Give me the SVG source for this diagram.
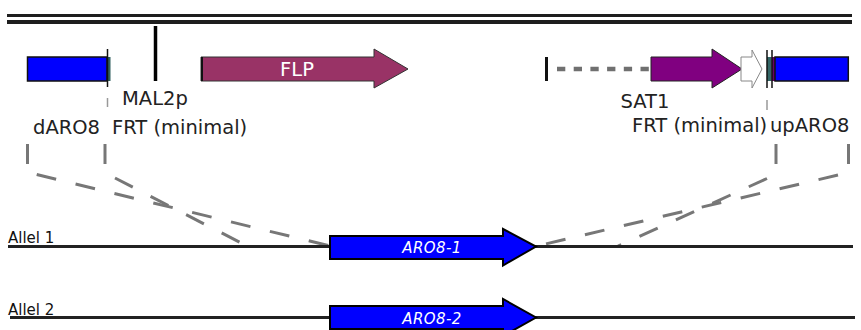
<svg xmlns="http://www.w3.org/2000/svg" width="861" height="330" viewBox="0 0 861 330">
<style>
.lbl{font-family:"DejaVu Sans",Verdana,sans-serif;font-size:19.5px;fill:#222}
.al{font-family:"DejaVu Sans",Verdana,sans-serif;font-size:15px;fill:#111}
.gene{font-family:"DejaVu Sans",Verdana,sans-serif;font-size:15px;font-style:italic;fill:#fff;letter-spacing:0.4px}
.dash{stroke:#777;stroke-width:3;fill:none;stroke-dasharray:20 20}
.tick{stroke:#777;stroke-width:3}
.thin{stroke:#999;stroke-width:1.5}
.bar{stroke:#111;stroke-width:1.5}
.allele{stroke:#222;stroke-width:3}
.blue{fill:#0000ff;stroke:#111;stroke-width:1.5}
.aro{fill:#0000ff;stroke:#000;stroke-width:2}
</style>
<rect width="861" height="330" fill="#fff"/>
<g id="backbone">
<rect x="7" y="14" width="845" height="3" fill="#1e1e1e"/>
<rect x="7" y="20" width="845" height="4" fill="#1e1e1e"/>
</g>
<g id="dARO8">
<rect class="blue" x="27.5" y="57" width="79.5" height="24"/>
<text class="lbl" x="33" y="134">dARO8</text>
</g>
<g id="FRT-left">
<rect x="107" y="57" width="3.5" height="24" fill="#2f5f5f"/>
<line class="bar" x1="107.5" y1="49" x2="107.5" y2="87"/>
<line class="thin" x1="107.5" y1="98" x2="107.5" y2="107"/>
<text class="lbl" x="112" y="134">FRT (minimal)</text>
</g>
<g id="MAL2p">
<line x1="155.5" y1="26" x2="155.5" y2="81" stroke="#000" stroke-width="3.5"/>
<text class="lbl" x="122" y="105">MAL2p</text>
</g>
<g id="FLP">
<polygon points="201,57 374,57 374,49 408,69 374,88 374,81 201,81" fill="#993366" stroke="#333" stroke-width="1"/>
<line x1="202" y1="57" x2="202" y2="81" stroke="#111" stroke-width="2"/>
<text x="297" y="76" text-anchor="middle" font-family="DejaVu Sans,Verdana,sans-serif" font-size="19.5" fill="#fff">FLP</text>
</g>
<g id="SAT1">
<line x1="546.5" y1="57" x2="546.5" y2="81" stroke="#111" stroke-width="3"/>
<line x1="557" y1="69" x2="651" y2="69" stroke="#707070" stroke-width="4.5" stroke-dasharray="8.3 8.4"/>
<polygon points="651,57 712,57 712,49 742,69 712,88 712,81 651,81" fill="#800080" stroke="#222" stroke-width="1"/>
<text class="lbl" x="620.5" y="108">SAT1</text>
</g>
<g id="white-arrow">
<polygon points="741,57 752,57 752,50 762,69 752,88 752,81 741,81" fill="#fff" stroke="#888" stroke-width="1"/>
</g>
<g id="FRT-right">
<rect x="767" y="57" width="4.5" height="24" fill="#336666"/>
<rect x="771.5" y="57" width="3.5" height="24" fill="#660066"/>
<line class="bar" x1="767" y1="50" x2="767" y2="88"/>
<line class="bar" x1="772" y1="50" x2="772" y2="88"/>
<line class="thin" x1="767" y1="100" x2="767" y2="110"/>
<text class="lbl" x="632" y="132">FRT (minimal)</text>
</g>
<g id="upARO8">
<rect class="blue" x="775" y="57" width="73.3" height="24"/>
<text class="lbl" x="770" y="132">upARO8</text>
</g>
<g id="connectors">
<line class="tick" x1="27.5" y1="144" x2="27.5" y2="164"/>
<line class="tick" x1="105" y1="144" x2="105" y2="164"/>
<line class="tick" x1="776" y1="144" x2="776" y2="164"/>
<line class="tick" x1="848.5" y1="144" x2="848.5" y2="164"/>
<line class="dash" x1="36.7" y1="174.5" x2="330" y2="246"/>
<line class="dash" x1="115" y1="178" x2="247" y2="246"/>
<line class="dash" x1="838" y1="175" x2="537" y2="246"/>
<line class="dash" x1="767" y1="178.5" x2="618" y2="246"/>
</g>
<g id="allel1">
<line class="allele" x1="8" y1="246.5" x2="853" y2="246.5"/>
<text class="al" x="8" y="243">Allel 1</text>
</g>
<g id="ARO8-1">
<polygon class="aro" points="330,236 503,236 503,229 536,246.5 503,265.5 503,259 330,259"/>
<text class="gene" x="432" y="253" text-anchor="middle">ARO8-1</text>
</g>
<g id="allel2">
<line class="allele" x1="10" y1="317.5" x2="855" y2="317.5" stroke-width="3.5"/>
<text class="al" x="8" y="315">Allel 2</text>
</g>
<g id="ARO8-2">
<polygon class="aro" points="330,306 503,306 503,299 536,317.5 503,336 503,329 330,329"/>
<text class="gene" x="432" y="324" text-anchor="middle">ARO8-2</text>
</g>
</svg>
